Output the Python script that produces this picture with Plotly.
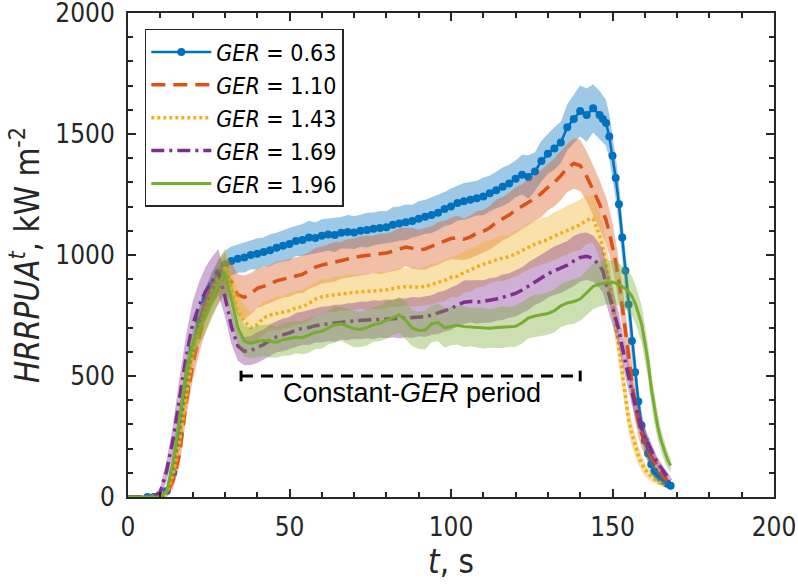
import plotly.graph_objects as go

# Time grid (s): 2 s steps up to 146 s, then 1 s steps through burnout
T = list(range(0, 147, 2)) + list(range(147, 169))

# Mean HRRPUA^t (kW m^-2) per global equivalence ratio
ger_063 = [None, None, None, 0, 0, 3, 25, 100, 260, 450, 610, 730, 815, 875, 925, 960, 975, 985, 990, 1000,
           1005, 1012, 1020, 1030, 1038, 1045, 1058, 1062, 1072, 1070,
           1080, 1085, 1083, 1092, 1095, 1093, 1100, 1103, 1108, 1112,
           1115, 1125, 1130, 1135, 1140, 1150, 1158, 1165, 1175, 1190,
           1200, 1215, 1222, 1228, 1235, 1242, 1255, 1268, 1282, 1295,
           1315, 1332, 1322, 1345, 1388, 1418, 1440, 1465, 1528, 1562,
           1595, 1578, 1606, 1578,
           1562, 1545, 1490, 1410, 1318, 1210, 1072, 935, 795, 645, 515, 395, 295, 232, 180, 135, 105, 88, 75, 65, 55, 46]
ger_110 = [0, 0, 0, 0, 0, 2, 15, 70, 180, 390, 545, 660, 755, 820, 870, 915, 890, 835, 825, 840,
           862, 870, 880, 893, 900, 905, 915, 920, 935, 950,
           958, 965, 972, 978, 985, 990, 995, 1000, 1002, 1005,
           1008, 1015, 1025, 1033, 1028, 1022, 1025, 1035, 1048, 1058,
           1068, 1072, 1065, 1075, 1090, 1098, 1112, 1135, 1150, 1165,
           1185, 1200, 1218, 1235, 1255, 1280, 1300, 1328, 1360, 1378,
           1370, 1325, 1270, 1210,
           1175, 1145, 1095, 1040, 970, 890, 795, 690, 585, 470, 380, 310, 262, 225, 195, 170, 145, 120, 100, 82, 68]
ger_143 = [0, 0, 0, 0, 0, 3, 20, 95, 230, 420, 590, 700, 780, 850, 910, 955, 870, 780, 725, 700,
           712, 740, 752, 758, 762, 770, 782, 786, 800, 818,
           828, 832, 836, 841, 845, 846, 848, 849, 850, 853,
           856, 862, 866, 869, 868, 867, 870, 878, 886, 895,
           908, 912, 928, 938, 952, 962, 972, 980, 987, 993,
           1005, 1018, 1034, 1045, 1055, 1064, 1078, 1090, 1103, 1115,
           1125, 1145, 1150, 1080,
           1034, 970, 897, 810, 710, 610, 520, 415, 320, 262, 215, 172, 140, 115, 98, 84, 73, 64, 56, 48]
ger_169 = [0, 0, 0, 0, 2, 20, 110, 240, 420, 580, 712, 790, 850, 892, 930, 830, 705, 625, 602, 605,
           618, 630, 648, 662, 670, 678, 690, 697, 700, 708,
           712, 716, 718, 722, 725, 728, 730, 731, 733, 735,
           736, 737, 738, 740, 742, 744, 745, 752, 760, 768,
           778, 792, 805, 808, 806, 808, 812, 818, 825, 833,
           841, 855, 872, 890, 905, 922, 935, 945, 958, 975,
           990, 995, 985, 955,
           935, 880, 835, 790, 740, 690, 620, 555, 495, 435, 380, 330, 285, 250, 220, 190, 165, 140, 120, 100, 85, 70]
ger_196 = [0, 0, 0, 0, 0, 0, 25, 150, 330, 520, 630, 695, 745, 810, 880, 930, 820, 700, 645, 635,
           642, 648, 644, 640, 650, 655, 660, 658, 668, 680,
           685, 700, 712, 716, 705, 695, 692, 700, 712, 718,
           730, 742, 752, 730, 698, 688, 690, 715, 722, 700,
           705, 710, 704, 703, 700, 698, 697, 700, 702, 703,
           705, 720, 740, 748, 752, 758, 770, 790, 802, 808,
           818, 845, 870, 880,
           882, 885, 887, 888, 884, 878, 870, 860, 848, 830, 800, 760, 715, 640, 560, 450, 360, 290, 235, 190, 155, 130]

# Half-width of the shaded scatter band around each mean (kW m^-2)
hw_063 = [0, 0, 0, 0, 0, 5, 15, 30, 40, 45, 50, 50, 52, 55, 55, 58, 60, 58, 62, 60,
          64, 60, 66, 62, 65, 68, 62, 66, 70, 64,
          68, 66, 72, 65, 70, 68, 66, 72, 68, 70,
          66, 72, 70, 74, 68, 72, 70, 74, 72, 70,
          75, 72, 76, 74, 72, 78, 74, 76, 80, 78,
          76, 82, 90, 80, 84, 82, 88, 86, 95, 100,
          105, 110, 100, 100,
          98, 95, 92, 90, 88, 85, 82, 80, 76, 72, 68, 64, 58, 52, 46, 40, 34, 28, 24, 20, 16, 12]
hw_110 = [0, 0, 0, 0, 0, 5, 15, 35, 50, 60, 65, 68, 70, 70, 72, 75, 80, 85, 90, 85,
          82, 80, 78, 80, 76, 78, 74, 78, 76, 80,
          76, 78, 82, 76, 80, 78, 82, 80, 78, 84,
          80, 82, 86, 80, 84, 82, 86, 84, 88, 84,
          86, 90, 86, 88, 92, 88, 90, 94, 90, 92,
          95, 92, 96, 94, 98, 96, 100, 102, 100, 104,
          106, 104, 102, 100,
          98, 96, 94, 92, 90, 88, 85, 82, 78, 74, 70, 64, 58, 52, 46, 40, 34, 28, 24, 20, 16]
hw_143 = [0, 0, 0, 0, 0, 5, 15, 30, 45, 55, 60, 62, 65, 68, 70, 72, 70, 68, 66, 64,
          66, 68, 64, 70, 66, 72, 68, 70, 74, 70,
          72, 68, 74, 70, 76, 72, 70, 76, 72, 78,
          74, 76, 80, 76, 82, 78, 80, 84, 80, 86,
          82, 88, 84, 90, 86, 92, 88, 90, 94, 90,
          95, 92, 96, 94, 98, 95, 100, 98, 102, 100,
          104, 100, 98, 95,
          92, 88, 84, 80, 76, 72, 68, 62, 56, 50, 44, 38, 32, 28, 24, 20, 17, 14, 12, 10]
hw_169 = [0, 0, 0, 0, 5, 20, 45, 65, 80, 90, 95, 98, 100, 100, 95, 85, 72, 62, 58, 60,
          64, 62, 66, 64, 68, 66, 70, 68, 72, 70,
          74, 72, 76, 72, 76, 74, 78, 76, 80, 76,
          80, 78, 82, 80, 84, 80, 84, 82, 86, 84,
          88, 85, 90, 86, 90, 88, 92, 90, 94, 92,
          95, 94, 98, 96, 100, 98, 100, 102, 100, 104,
          100, 98, 96, 92,
          90, 86, 82, 78, 74, 70, 66, 62, 58, 54, 50, 46, 42, 38, 34, 30, 26, 22, 20, 18, 16, 14]
hw_196 = [0, 0, 0, 0, 0, 0, 10, 30, 45, 55, 60, 65, 68, 72, 78, 80, 76, 70, 64, 62,
          66, 64, 68, 64, 66, 70, 66, 68, 72, 68,
          72, 70, 74, 70, 72, 76, 72, 74, 70, 74,
          76, 72, 74, 78, 74, 76, 80, 76, 78, 82,
          78, 80, 84, 80, 82, 84, 80, 84, 86, 82,
          84, 86, 84, 88, 86, 88, 90, 88, 90, 92,
          90, 92, 94, 92,
          92, 90, 92, 90, 88, 88, 86, 85, 84, 82, 80, 78, 76, 72, 68, 64, 58, 52, 46, 40, 34, 28]

ger_labels = ["0.63", "1.10", "1.43", "1.69", "1.96"]

# Constant-GER period marker
period_t = [35, 140]
period_level = 500
period_cap = 22

AXIS = "#262626"
TICK_FONT = "DejaVu Sans Condensed, DejaVu Sans, sans-serif"

styles = [
    dict(color="#0072BD", rgb=(0, 114, 189), width=2.5, dash="solid", marker=True),
    dict(color="#D95319", rgb=(217, 83, 25), width=3.5, dash="14px,8px", marker=False),
    dict(color="#EDB120", rgb=(237, 177, 32), width=3.5, dash="3px,3px", marker=False),
    dict(color="#7E2F8E", rgb=(126, 47, 142), width=3.5, dash="13px,5px,3px,5px", marker=False),
    dict(color="#77AC30", rgb=(119, 172, 48), width=3.0, dash="solid", marker=False),
]
means = [ger_063, ger_110, ger_143, ger_169, ger_196]
halfw = [hw_063, hw_110, hw_143, hw_169, hw_196]

fig = go.Figure()

for label, vals, hw, st in zip(ger_labels, means, halfw, styles):
    pts = [(t, v, h) for t, v, h in zip(T, vals, hw) if v is not None]
    ts = [p[0] for p in pts]
    vs = [p[1] for p in pts]
    upper = [v + h for _, v, h in pts]
    lower = [max(v - h, 0) for _, v, h in pts]
    r, g, b = st["rgb"]
    fig.add_trace(go.Scatter(
        x=ts + ts[::-1], y=upper + lower[::-1],
        fill="toself", fillcolor=f"rgba({r},{g},{b},0.38)",
        mode="lines", line=dict(width=0, color="rgba(0,0,0,0)"),
        showlegend=False, hoverinfo="skip"))
    fig.add_trace(go.Scatter(
        x=ts, y=vs,
        mode="lines+markers" if st["marker"] else "lines",
        line=dict(color=st["color"], width=st["width"], dash=st["dash"]),
        marker=dict(size=8, color=st["color"]) if st["marker"] else None,
        name=f"<i>GER</i> = {label}"))

# Dashed span with end caps for the constant-GER period
fig.add_trace(go.Scatter(
    x=period_t, y=[period_level, period_level], mode="lines",
    line=dict(color="black", width=3, dash="12px,8px"),
    showlegend=False, hoverinfo="skip"))
for tc in period_t:
    fig.add_trace(go.Scatter(
        x=[tc, tc], y=[period_level - period_cap, period_level + period_cap],
        mode="lines", line=dict(color="black", width=3),
        showlegend=False, hoverinfo="skip"))

fig.add_annotation(
    x=88, y=428, xref="x", yref="y",
    text="Constant-<i>GER</i> period", showarrow=False,
    font=dict(family="Liberation Sans, Arial, sans-serif", size=27, color="black"))

axis_common = dict(
    showline=True, linecolor=AXIS, linewidth=2, mirror="ticks",
    ticks="inside", ticklen=8, tickwidth=1.5, tickcolor=AXIS,
    showgrid=False, zeroline=False, ticklabelstandoff=6,
    ticklabeloverflow="allow", automargin=False,
    tickfont=dict(family=TICK_FONT, size=26, color=AXIS),
)

fig.update_xaxes(
    range=[0, 200], tickvals=[0, 50, 100, 150, 200],
    minor=dict(dtick=10, ticks="inside", ticklen=5, tickwidth=1.5, tickcolor=AXIS, showgrid=False),
    title=dict(text="<i>t</i>, s", font=dict(family=TICK_FONT, size=33, color=AXIS), standoff=4),
    **axis_common)
fig.update_yaxes(
    range=[0, 2000], tickvals=[0, 500, 1000, 1500, 2000],
    minor=dict(dtick=100, ticks="inside", ticklen=5, tickwidth=1.5, tickcolor=AXIS, showgrid=False),
    title=dict(text="<i>HRRPUA</i><sup><i>t</i></sup>, kW m<sup>-2</sup>",
               font=dict(family=TICK_FONT, size=33, color=AXIS), standoff=6),
    **axis_common)

fig.update_layout(
    width=798, height=586,
    margin=dict(l=128, r=24, t=13, b=89),
    plot_bgcolor="white", paper_bgcolor="white",
    legend=dict(
        x=0.026, y=0.967, xanchor="left", yanchor="top",
        bgcolor="white", bordercolor=AXIS, borderwidth=1.5,
        font=dict(family=TICK_FONT, size=23, color="black"),
        itemwidth=60, tracegroupgap=0,
    ),
)

fig.write_html("out.html")
